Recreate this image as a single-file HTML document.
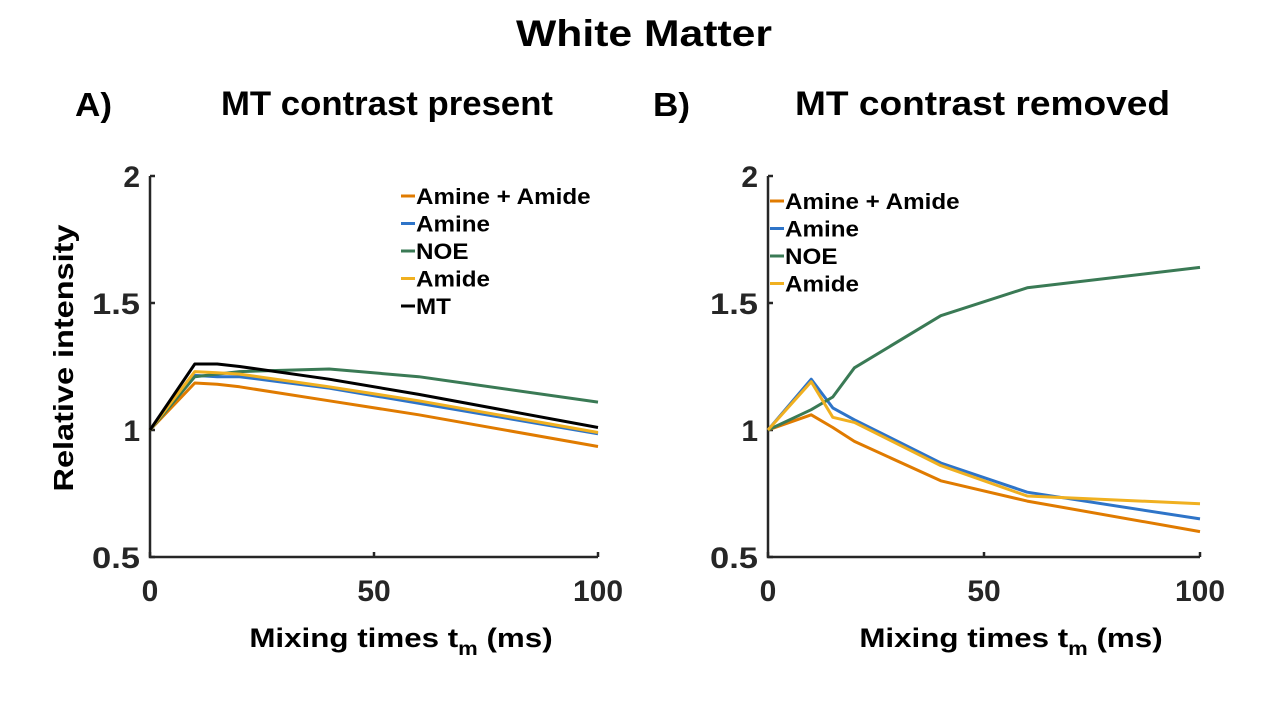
<!DOCTYPE html>
<html><head><meta charset="utf-8"><style>
html,body{margin:0;padding:0;background:#fff;}
svg{display:block;font-family:"Liberation Sans",Arial,sans-serif;font-weight:bold;}
</style></head><body>
<svg id="chart" width="1280" height="720" viewBox="0 0 1280 720">
<text id="t0" x="644" y="46" text-anchor="middle" font-size="37" fill="#000" textLength="256" lengthAdjust="spacingAndGlyphs">White Matter</text>
<text x="75" y="116" font-size="33" fill="#000" textLength="37" lengthAdjust="spacingAndGlyphs">A)</text>
<text x="221" y="115" font-size="34" fill="#000" textLength="332" lengthAdjust="spacingAndGlyphs">MT contrast present</text>
<text x="653" y="116" font-size="33" fill="#000" textLength="37" lengthAdjust="spacingAndGlyphs">B)</text>
<text x="795" y="115" font-size="34" fill="#000" textLength="375" lengthAdjust="spacingAndGlyphs">MT contrast removed</text>
<text transform="translate(73,358) rotate(-90)" text-anchor="middle" font-size="28" fill="#000" textLength="267" lengthAdjust="spacingAndGlyphs">Relative intensity</text>
<g id="pa"></g>
<g id="pb"></g>
</svg>
<script>
const xVals = [0, 10, 15, 20, 40, 60, 100];
const xTicks = [0, 50, 100];
const yTicks = [0.5, 1, 1.5, 2];
const yTickLabels = ["0.5", "1", "1.5", "2"];
const seriesNames = ["Amine + Amide", "Amine", "NOE", "Amide", "MT"];
const seriesColors = ["#e07b00", "#2e74c8", "#3a7a55", "#f0b020", "#000000"];
const aAmineAmide = [1, 1.185, 1.18, 1.17, 1.115, 1.06, 0.935];
const aAmine = [1, 1.215, 1.21, 1.21, 1.165, 1.105, 0.985];
const aNOE = [1, 1.21, 1.22, 1.23, 1.24, 1.21, 1.11];
const aAmide = [1, 1.23, 1.225, 1.22, 1.17, 1.115, 0.99];
const aMT = [1, 1.26, 1.26, 1.25, 1.20, 1.14, 1.01];
const bAmineAmide = [1, 1.06, 1.01, 0.955, 0.80, 0.72, 0.60];
const bAmine = [1, 1.20, 1.087, 1.04, 0.87, 0.755, 0.65];
const bNOE = [1, 1.08, 1.13, 1.245, 1.45, 1.56, 1.64];
const bAmide = [1, 1.19, 1.05, 1.03, 0.86, 0.74, 0.71];

const NS = "http://www.w3.org/2000/svg";
function mk(tag, attrs, parent){const e=document.createElementNS(NS,tag);for(const k in attrs)e.setAttribute(k,attrs[k]);parent.appendChild(e);return e;}
function stretch(t,f){const w=t.getComputedTextLength();t.setAttribute('textLength',(w*f).toFixed(1));t.setAttribute('lengthAdjust','spacingAndGlyphs');}
function drawPanel(g, x0, x1, series, legX, legY, pfx){
  const yTop=176, yBot=557;
  const sx=v=>x0+(v-0)/(100-0)*(x1-x0);
  const sy=v=>yBot-(v-0.5)/(2-0.5)*(yBot-yTop);
  const ax=mk('path',{d:`M${x0},${yTop}V${yBot}H${x1}`,stroke:'#262626','stroke-width':2.5,fill:'none'},g);
  
  
  yTicks.forEach((t,i)=>{
    const y=sy(t);
    const tk=mk('line',{x1:x0,x2:x0+5,y1:y,y2:y,stroke:'#262626','stroke-width':2.5},g);
    
    
    const tx=mk('text',{x:x0-10,y:y+11,'text-anchor':'end','font-size':30,fill:'#262626'},g);
    tx.textContent=yTickLabels[i];
    
    
    if(yTickLabels[i].indexOf('.')>=0) stretch(tx,1.15);
  });
  xTicks.forEach(t=>{
    const x=sx(t);
    const tk=mk('line',{x1:x,x2:x,y1:yBot,y2:yBot-5,stroke:'#262626','stroke-width':2.5},g);
    
    
    const tx=mk('text',{x:x,y:yBot+44,'text-anchor':'middle','font-size':30,fill:'#262626'},g);
    tx.textContent=String(t);
    
    
  });
  const xl=mk('text',{x:(x0+x1)/2+27,y:647,'text-anchor':'middle','font-size':27,fill:'#000'},g);
  xl.innerHTML='Mixing times t<tspan font-size="19" dy="8">m</tspan><tspan dy="-8"> (ms)</tspan>';
  
  
  stretch(xl,1.16);
  series.forEach((vals,i)=>{
    const d=vals.map((v,j)=>(j?'L':'M')+sx(xVals[j]).toFixed(1)+','+sy(v).toFixed(1)).join('');
    const p=mk('path',{d:d,stroke:seriesColors[i],'stroke-width':3,fill:'none','stroke-linejoin':'round'},g);
    
    
  });
  series.forEach((vals,i)=>{
    const y=legY+i*27.5;
    const l=mk('line',{x1:legX,x2:legX+14,y1:y,y2:y,stroke:seriesColors[i],'stroke-width':3},g);
    
    
    const t=mk('text',{x:legX+15,y:y+8,'font-size':22,fill:'#000'},g);
    t.textContent=seriesNames[i];
    
    
    stretch(t,1.1);
  });
}
drawPanel(document.getElementById('pa'),150,598,[aAmineAmide,aAmine,aNOE,aAmide,aMT],401,196,'panel-a');
drawPanel(document.getElementById('pb'),768,1200,[bAmineAmide,bAmine,bNOE,bAmide],770,201,'panel-b');
</script>
</body></html>
